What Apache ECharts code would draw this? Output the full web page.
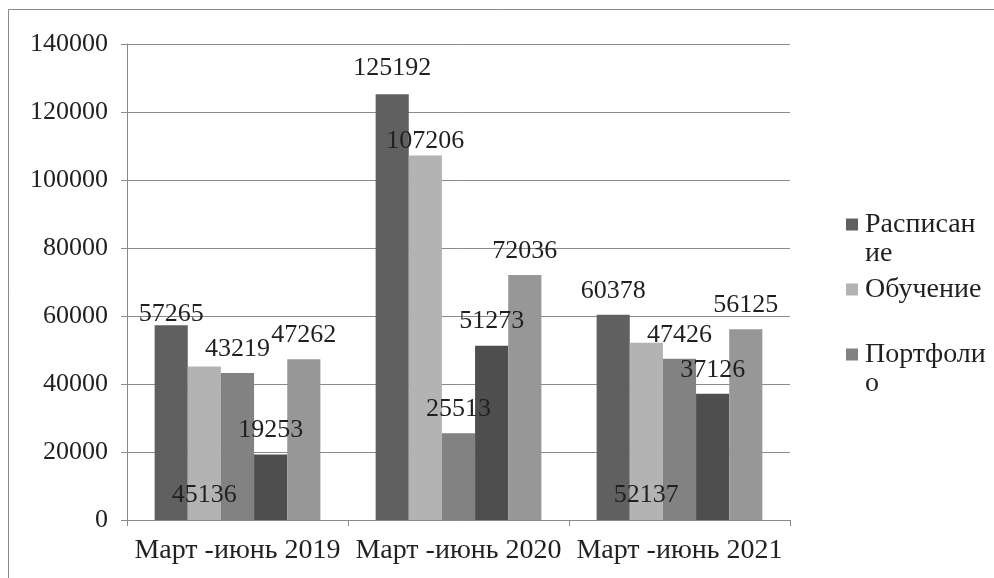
<!DOCTYPE html>
<html><head><meta charset="utf-8">
<script src="https://cdn.jsdelivr.net/npm/echarts@6/dist/echarts.min.js"></script>
<style>html,body{margin:0;padding:0;background:#fff}#c{width:994px;height:578px}</style>
</head><body><div id="c"></div>
<script>
// ---- data ----
const categories = ['Март -июнь 2019', 'Март -июнь 2020', 'Март -июнь 2021'];
const seriesNames = ['Расписание', 'Обучение', 'Портфолио', 'Ряд 4', 'Ряд 5'];
const raspisanie = [57265, 125192, 60378];
const obuchenie = [45136, 107206, 52137];
const portfolio = [43219, 25513, 47426];
const ryad4 = [19253, 51273, 37126];
const ryad5 = [47262, 72036, 56125];
const legendNames = ['Расписание', 'Обучение', 'Портфолио'];
const legendLines = { 'Расписание': ['Расписан', 'ие'], 'Обучение': ['Обучение', ' '], 'Портфолио': ['Портфоли', 'о'] };

// ---- style ----
const FONT = "'Liberation Serif', 'Times New Roman', serif";
const FS = 26;      // numbers
const FS_TXT = 28;  // words
const colors = ['#606060', '#b3b3b3', '#828282', '#4e4e4e', '#979797'];
const allValues = [raspisanie, obuchenie, portfolio, ryad4, ryad5];
const DEF_DIST = 11;
// label placement overrides: [seriesIndex][categoryIndex]
const labelOverrides = {
  0: { 0: { position: 'top', distance: -2 }, 1: { position: 'top', distance: 13 } },
  1: { 0: { position: 'insideBottom', distance: 12 }, 1: { position: 'top', distance: 1 }, 2: { position: 'insideBottom', distance: 12 } }
};

const series = allValues.map((vals, si) => ({
  name: seriesNames[si],
  type: 'bar',
  barGap: '0%',
  barCategoryGap: '25%',
  itemStyle: { color: colors[si] },
  label: { show: true, position: 'top', distance: DEF_DIST, fontFamily: FONT, fontSize: FS, color: '#231f20' },
  data: vals.map((v, ci) => {
    const o = labelOverrides[si] && labelOverrides[si][ci];
    return o ? { value: v, label: o } : v;
  }),
  z: 2
}));

const rich = { t: { fontFamily: FONT, fontSize: FS_TXT, color: '#231f20', lineHeight: 29, padding: [0, 0, 0, 7] } };
colors.forEach((c, i) => { rich['s' + i] = { backgroundColor: c, width: 12, height: 12, lineHeight: 29 }; });
rich.blank = { width: 12, height: 12, lineHeight: 29 };

const chart = echarts.init(document.getElementById('c'));
chart.setOption({
  animation: false,
  backgroundColor: '#fff',
  textStyle: { fontFamily: FONT },
  graphic: [{ type: 'rect', shape: { x: 8.5, y: 9.5, width: 1100, height: 700 }, style: { fill: 'none', stroke: '#8a8a8a', lineWidth: 1 }, silent: true }],
  grid: { left: 127, right: 204, top: 44, bottom: 58, containLabel: false },
  legend: {
    orient: 'vertical', left: 836, top: 205, itemGap: 7,
    icon: 'none', itemWidth: 0, itemHeight: 0,
    data: legendNames,
    formatter: name => {
      const i = seriesNames.indexOf(name);
      const l = legendLines[name];
      return '{s' + i + '| }{t|' + l[0] + '}\n{blank| }{t|' + l[1] + '}';
    },
    textStyle: { rich: rich, fontFamily: FONT, fontSize: FS_TXT, lineHeight: 29 }
  },
  xAxis: {
    type: 'category', data: categories,
    axisLine: { lineStyle: { color: '#8a8a8a', width: 1 } },
    axisTick: { show: true, length: 6, lineStyle: { color: '#8a8a8a' } },
    axisLabel: { interval: 0, fontFamily: FONT, fontSize: FS_TXT, color: '#231f20', margin: 17 }
  },
  yAxis: {
    type: 'value', min: 0, max: 140000, interval: 20000,
    axisLine: { show: true, lineStyle: { color: '#8a8a8a', width: 1 } },
    axisTick: { show: true, length: 6, lineStyle: { color: '#8a8a8a' } },
    splitLine: { lineStyle: { color: '#8a8a8a', width: 1 } },
    axisLabel: { formatter: v => String(v), fontFamily: FONT, fontSize: FS, color: '#231f20', margin: 19 }
  },
  series: series
});
</script></body></html>
